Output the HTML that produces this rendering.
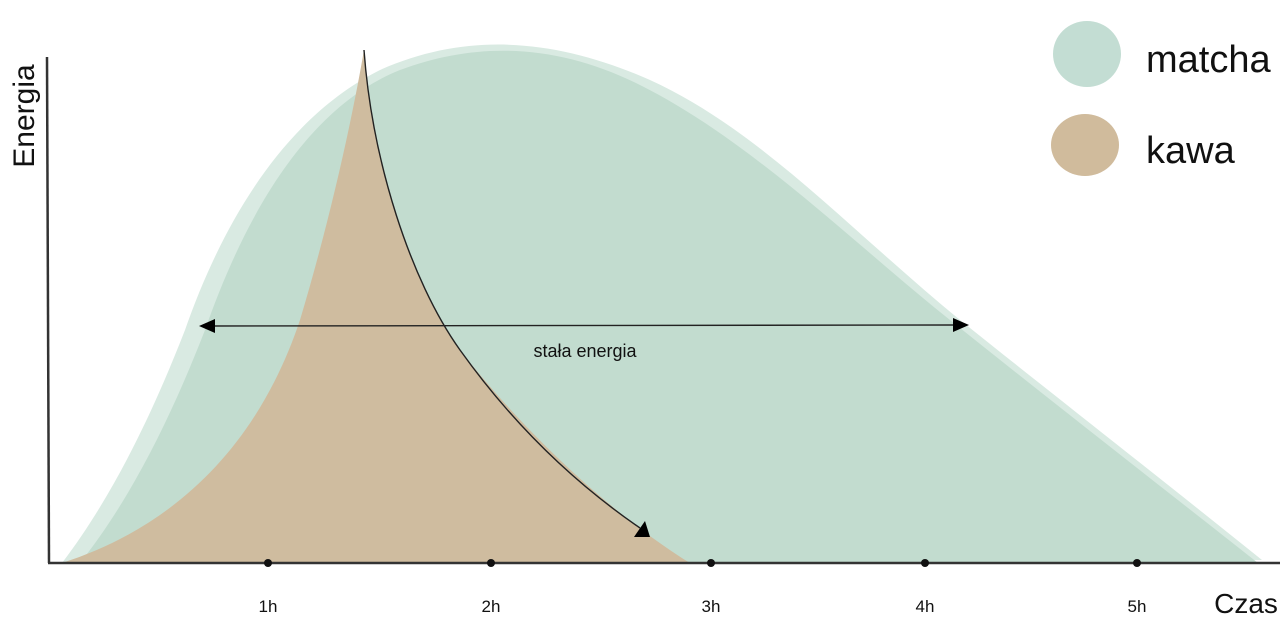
<!DOCTYPE html>
<html><head><meta charset="utf-8"><style>
html,body{margin:0;padding:0;background:#fff;}
svg{display:block;}
text{font-family:"Liberation Sans",sans-serif;fill:#111;}
</style></head><body>
<svg width="1280" height="624" viewBox="0 0 1280 624">
<path d="M62,563 C110,500 150,420 185,330 C220,230 280,120 380,70 C470,30 560,40 650,80 C760,130 850,230 960,320 C1060,400 1150,470 1262,560 Z" fill="#d9eae2"/>
<path d="M80,563 C130,500 170,420 205,330 C240,230 300,110 400,70 C480,40 560,45 640,85 C750,140 850,240 950,320 C1050,400 1140,470 1258,563 Z" fill="#c2dccf"/>
<path d="M62,563 C180,525 260,440 300,320 C330,220 352,120 364,50 C372,160 410,280 460,350 C530,440 620,520 690,563 Z" fill="#cfbc9f"/>
<path d="M364,50 C372,160 410,280 460,350 C510,420 570,480 640,528" fill="none" stroke="#222" stroke-width="1.4"/>
<polygon points="634,537 650,537 645,521" fill="#000"/>
<line x1="47" y1="57" x2="49" y2="563" stroke="#333" stroke-width="2.5"/>
<line x1="48" y1="563" x2="1280" y2="563" stroke="#333" stroke-width="2.5"/>
<g fill="#111">
<circle cx="268" cy="563" r="4"/><circle cx="491" cy="563" r="4"/><circle cx="711" cy="563" r="4"/><circle cx="925" cy="563" r="4"/><circle cx="1137" cy="563" r="4"/>
</g>
<g font-size="17" text-anchor="middle">
<text x="268" y="612">1h</text><text x="491" y="612">2h</text><text x="711" y="612">3h</text><text x="925" y="612">4h</text><text x="1137" y="612">5h</text>
</g>
<text x="1246" y="613" font-size="28" text-anchor="middle">Czas</text>
<text transform="translate(34,116) rotate(-90)" font-size="30" text-anchor="middle">Energia</text>
<line x1="210" y1="326" x2="958" y2="325" stroke="#222" stroke-width="1.4"/>
<polygon points="199,326 215,319 215,333" fill="#000"/>
<polygon points="969,325 953,318 953,332" fill="#000"/>
<text x="585" y="357" font-size="18" text-anchor="middle">stała energia</text>
<ellipse cx="1087" cy="54" rx="34" ry="33" fill="#c3ddd3"/>
<ellipse cx="1085" cy="145" rx="34" ry="31" fill="#d0bb9c"/>
<text x="1146" y="72" font-size="38">matcha</text>
<text x="1146" y="163" font-size="38">kawa</text>
</svg>
</body></html>
